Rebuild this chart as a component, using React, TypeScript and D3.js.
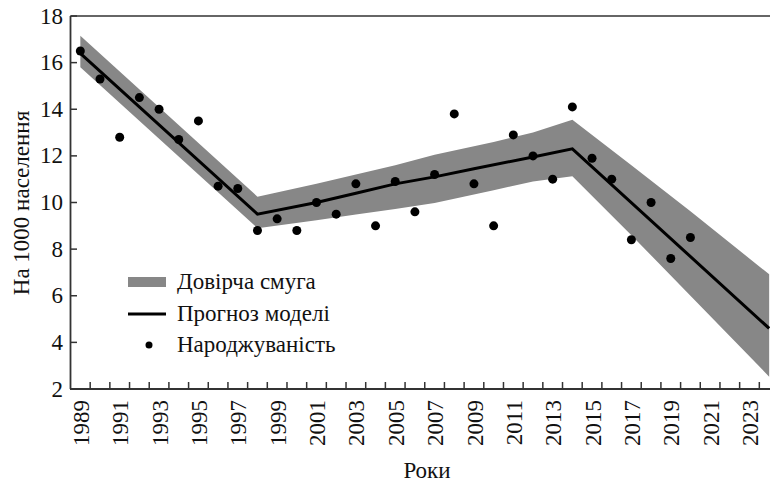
import React from "react";
import * as d3 from "d3";

// observed birth rate, per 1000 population
const obsYears = [
  1989, 1990, 1991, 1992, 1993, 1994, 1995, 1996, 1997, 1998, 1999, 2000, 2001, 2002, 2003, 2004,
  2005, 2006, 2007, 2008, 2009, 2010, 2011, 2012, 2013, 2014, 2015, 2016, 2017, 2018, 2019, 2020,
];
const birthRate = [
  16.5, 15.3, 12.8, 14.5, 14.0, 12.7, 13.5, 10.7, 10.6, 8.8, 9.3, 8.8, 10.0, 9.5, 10.8, 9.0,
  10.9, 9.6, 11.2, 13.8, 10.8, 9.0, 12.9, 12.0, 11.0, 14.1, 11.9, 11.0, 8.4, 10.0, 7.6, 8.5,
];

// model forecast
const modelYears = [1989, 1998, 2001, 2003, 2005, 2007, 2009, 2012, 2014, 2024];
const modelRate = [16.4, 9.5, 10.0, 10.4, 10.8, 11.1, 11.45, 11.95, 12.3, 4.6];

// confidence band
const bandYears = [1989, 1998, 2001, 2003, 2005, 2007, 2010, 2012, 2014, 2017, 2020, 2024];
const bandUpper = [17.15, 10.25, 10.8, 11.2, 11.6, 12.05, 12.6, 13.0, 13.55, 11.6, 9.62, 6.92];
const bandLower = [15.8, 8.9, 9.24, 9.48, 9.72, 9.98, 10.53, 10.9, 11.13, 8.6, 6.0, 2.53];

const yTicks = [2, 4, 6, 8, 10, 12, 14, 16, 18];
const xLabels = [
  "1989", "1991", "1993", "1995", "1997", "1999", "2001", "2003", "2005",
  "2007", "2009", "2011", "2013", "2015", "2017", "2019", "2021", "2023",
];

const legendItems = ["Довірча смуга", "Прогноз моделі", "Народжуваність"];

const W = 770;
const H = 483;
const FONT = '"Liberation Serif"';
const BAND = "#878787";
const AXIS = "#333";
const txt = { fontFamily: FONT, fontSize: 23, fill: "#111" };

const x = d3.scaleLinear().domain([1988.5, 2024.5]).range([70.5, 779]);
const y = d3.scaleLinear().domain([2, 18]).range([389, 16]);

export default function App() {
  const band = d3
    .area<number>()
    .x((d) => x(d))
    .y0((_, i) => y(bandLower[i]))
    .y1((_, i) => y(bandUpper[i]));
  const line = d3
    .line<number>()
    .x((d) => x(d))
    .y((_, i) => y(modelRate[i]));

  // tick marks sit between the years
  const tickPos = d3.range(1989.5, 2024, 1);

  const legX = 128;
  const legRows = [282, 314, 345];

  return (
    <svg
      width={W}
      height={H}
      fontFamily="Liberation Serif"
      style={{ position: "absolute", left: 0, top: 0, display: "block", background: "#fff" }}
    >
      <path d={band(bandYears) || ""} fill={BAND} />
      <path d={line(modelYears) || ""} fill="none" stroke="#000" strokeWidth={3} />
      {obsYears.map((yr, i) => (
        <circle key={yr} cx={x(yr)} cy={y(birthRate[i])} r={4.5} fill="#000" />
      ))}

      {/* frame */}
      <line x1={70.5} x2={W} y1={16} y2={16} stroke={AXIS} strokeWidth={1.5} />
      <line x1={70.5} x2={70.5} y1={16} y2={389} stroke={AXIS} strokeWidth={1.8} />
      <line x1={70} x2={W} y1={389} y2={389} stroke={AXIS} strokeWidth={1.8} />

      {/* y axis */}
      {yTicks.map((t) => (
        <g key={t}>
          <line x1={70.5} x2={77} y1={y(t)} y2={y(t)} stroke={AXIS} strokeWidth={1.5} />
          <text x={63} y={y(t)} dy="0.33em" textAnchor="end" style={txt}>
            {t}
          </text>
        </g>
      ))}
      <text transform="translate(29, 203) rotate(-90)" textAnchor="middle" style={txt}>
        На 1000 населення
      </text>

      {/* x axis */}
      {tickPos.map((t) => (
        <line key={t} x1={x(t)} x2={x(t)} y1={389} y2={382} stroke={AXIS} strokeWidth={1.5} />
      ))}
      {xLabels.map((lab) => (
        <text
          key={lab}
          transform={`translate(${x(+lab) + 0.5}, 400) rotate(-90)`}
          textAnchor="end"
          dy="0.35em"
          style={txt}
        >
          {lab}
        </text>
      ))}
      <text x={427} y={478} textAnchor="middle" style={txt}>
        Роки
      </text>

      {/* legend */}
      <rect x={legX} y={legRows[0] - 5} width={38} height={10} fill={BAND} />
      <line x1={legX} x2={legX + 38} y1={legRows[1]} y2={legRows[1]} stroke="#000" strokeWidth={3} />
      <circle cx={legX + 21} cy={legRows[2]} r={3.5} fill="#000" />
      {legendItems.map((lab, i) => (
        <text key={lab} x={177} y={legRows[i]} dy="0.32em" style={txt}>
          {lab}
        </text>
      ))}
    </svg>
  );
}
